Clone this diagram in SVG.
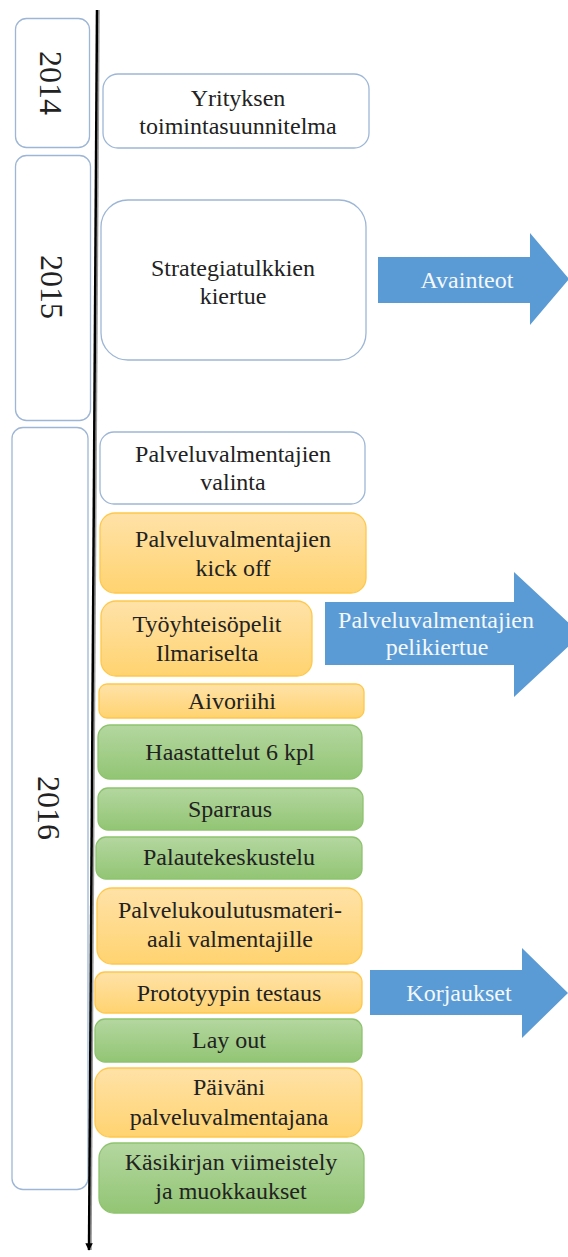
<svg xmlns="http://www.w3.org/2000/svg" width="568" height="1257" viewBox="0 0 568 1257" font-family="Liberation Serif">
  <defs>
    <linearGradient id="gOrange" x1="0" y1="0" x2="0" y2="1">
      <stop offset="0" stop-color="#FFE2A8"/>
      <stop offset="1" stop-color="#FFD370"/>
    </linearGradient>
    <linearGradient id="gGreen" x1="0" y1="0" x2="0" y2="1">
      <stop offset="0" stop-color="#B4D7A0"/>
      <stop offset="1" stop-color="#92C574"/>
    </linearGradient>
    <marker id="tlHead" viewBox="0 0 10 10" refX="9" refY="5" markerWidth="3" markerHeight="3" orient="auto">
      <path d="M0,0 L10,5 L0,10 z" fill="#000"/>
    </marker>
  </defs>
  <style>
    .year { fill: #fff; stroke: #9DB6D6; stroke-width: 1.3; }
    .plain { fill: #fff; stroke: #9DB6D6; stroke-width: 1.3; }
    .orange { fill: url(#gOrange); stroke: #FFC84A; stroke-width: 1.3; }
    .green { fill: url(#gGreen); stroke: #8EC36E; stroke-width: 1.3; }
    .arrow { fill: #5B9BD5; }
    .lbl { font-family: Liberation Serif, serif; font-size: 24px; fill: #222; text-anchor: middle; }
    .alb { font-family: Liberation Serif, serif; font-size: 24px; fill: #F4F8FC; text-anchor: middle; }
    .yr { font-family: Liberation Serif, serif; font-size: 32px; fill: #222; text-anchor: middle; }
  </style>

  <rect width="568" height="1257" fill="#fff"/>

  <!-- year columns -->
  <g id="year-2014">
    <rect class="year" x="15.5" y="18.5" width="74" height="129" rx="11"/>
    <text class="yr" transform="translate(51,83) rotate(90)" y="11">2014</text>
  </g>
  <g id="year-2015">
    <rect class="year" x="15.5" y="155.5" width="75" height="265" rx="11"/>
    <text class="yr" transform="translate(52,287) rotate(90)" y="11">2015</text>
  </g>
  <g id="year-2016">
    <rect class="year" x="12" y="427.5" width="76" height="762" rx="11"/>
    <text class="yr" transform="translate(49,808) rotate(90)" y="11">2016</text>
  </g>

  <!-- timeline axis -->
  <g id="connectors">
    <line x1="99" y1="10" x2="91" y2="1250" stroke="#9a9a9a" stroke-width="1.5"/>
    <line x1="97" y1="10" x2="89" y2="1250" stroke="#000" stroke-width="2.5" marker-end="url(#tlHead)"/>
  </g>

  <!-- activities -->
  <g id="n-toimintasuunnitelma">
    <rect class="plain" x="103" y="74" width="266" height="74" rx="15"/>
    <text class="lbl" x="238" y="106">Yrityksen</text>
    <text class="lbl" x="238" y="134">toimintasuunnitelma</text>
  </g>
  <g id="n-strategiatulkkien">
    <rect class="plain" x="101" y="200" width="265" height="160" rx="27"/>
    <text class="lbl" x="233" y="276">Strategiatulkkien</text>
    <text class="lbl" x="233" y="304">kiertue</text>
  </g>
  <g id="n-valinta">
    <rect class="plain" x="100" y="432" width="265" height="72" rx="14"/>
    <text class="lbl" x="233" y="462">Palveluvalmentajien</text>
    <text class="lbl" x="233" y="490">valinta</text>
  </g>
  <g id="n-kickoff">
    <rect class="orange" x="100" y="513" width="266" height="80" rx="15"/>
    <text class="lbl" x="233" y="547">Palveluvalmentajien</text>
    <text class="lbl" x="233" y="576">kick off</text>
  </g>
  <g id="n-tyoyhteisopelit">
    <rect class="orange" x="101" y="601" width="211" height="75" rx="15"/>
    <text class="lbl" x="207" y="632">Työyhteisöpelit</text>
    <text class="lbl" x="207" y="661">Ilmariselta</text>
  </g>
  <g id="n-aivoriihi">
    <rect class="orange" x="99" y="684" width="265" height="34" rx="8"/>
    <text class="lbl" x="232" y="709">Aivoriihi</text>
  </g>
  <g id="n-haastattelut">
    <rect class="green" x="98" y="725" width="264" height="54" rx="12"/>
    <text class="lbl" x="230" y="760">Haastattelut 6 kpl</text>
  </g>
  <g id="n-sparraus">
    <rect class="green" x="98" y="788" width="265" height="42" rx="10"/>
    <text class="lbl" x="230" y="817">Sparraus</text>
  </g>
  <g id="n-palautekeskustelu">
    <rect class="green" x="96" y="837" width="266" height="42" rx="10"/>
    <text class="lbl" x="229" y="865">Palautekeskustelu</text>
  </g>
  <g id="n-koulutusmateriaali">
    <rect class="orange" x="97" y="888" width="265" height="76" rx="15"/>
    <text class="lbl" x="230" y="918">Palvelukoulutusmateri-</text>
    <text class="lbl" x="230" y="947">aali valmentajille</text>
  </g>
  <g id="n-prototyyppi">
    <rect class="orange" x="95" y="972" width="267" height="41" rx="10"/>
    <text class="lbl" x="229" y="1001">Prototyypin testaus</text>
  </g>
  <g id="n-layout">
    <rect class="green" x="95" y="1019" width="267" height="43" rx="10"/>
    <text class="lbl" x="229" y="1048">Lay out</text>
  </g>
  <g id="n-paivani">
    <rect class="orange" x="95" y="1068" width="267" height="69" rx="15"/>
    <text class="lbl" x="229" y="1095">Päiväni</text>
    <text class="lbl" x="229" y="1125">palveluvalmentajana</text>
  </g>
  <g id="n-kasikirja">
    <rect class="green" x="99" y="1143" width="265" height="70" rx="15"/>
    <text class="lbl" x="231" y="1170">Käsikirjan viimeistely</text>
    <text class="lbl" x="231" y="1199">ja muokkaukset</text>
  </g>

  <!-- outcome arrows -->
  <g id="a-avainteot">
    <polygon class="arrow" points="378,257 530,257 530,233 569,279 530,325 530,303 378,303"/>
    <text class="alb" x="467" y="288">Avainteot</text>
  </g>
  <g id="a-pelikiertue">
    <polygon class="arrow" points="325,602 514,602 514,572 581,634.5 514,697 514,665 325,665"/>
    <text class="alb" x="436" y="628">Palveluvalmentajien</text>
    <text class="alb" x="437" y="655">pelikiertue</text>
  </g>
  <g id="a-korjaukset">
    <polygon class="arrow" points="370,970 522,970 522,948 568,993 522,1038 522,1015 370,1015"/>
    <text class="alb" x="459" y="1001">Korjaukset</text>
  </g>
</svg>
